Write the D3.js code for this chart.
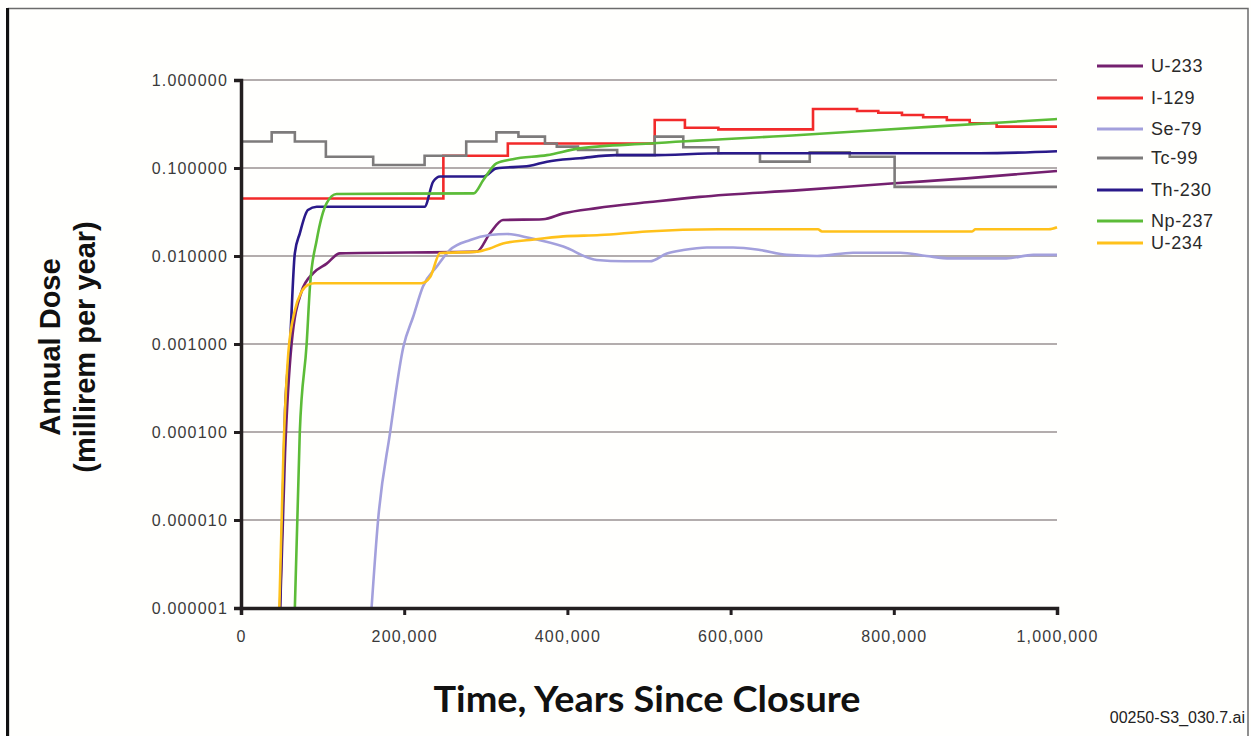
<!DOCTYPE html>
<html>
<head>
<meta charset="utf-8">
<script src="https://cdn.jsdelivr.net/npm/d3@7"></script>
<style>
  body { margin: 0; background: #fff; }
  svg { display: block; }
</style>
</head>
<body>
<div id="chart"></div>
<script>
// data: [years since closure, annual dose in millirem/yr]
const u233 = [[48000,1e-6],[54000,5.8e-5],[62000,0.001],[74000,0.0039],[88600,0.0064],[105000,0.0082],[121000,0.0107],
  [289000,0.0112],[305000,0.018],[321000,0.0256],[370000,0.0262],[395000,0.0305],[436000,0.035],[501000,0.041],
  [562000,0.047],[685000,0.056],[801000,0.067],[889000,0.0763],[1000000,0.0925]];
const i129 = [[0,0.045],[248000,0.138],[327000,0.19],[507000,0.351],[544000,0.287],[585000,0.275],[701000,0.468],
  [755000,0.444],[781000,0.425],[810000,0.40],[836000,0.377],[865000,0.351],[893000,0.322],[926000,0.295],[1000000,0.295]];
const se79 = [[160000,1e-6],[168000,1e-5],[182600,9.7e-5],[199000,9.3e-4],[211000,0.00204],[223000,0.0045],[240000,0.0076],
  [256000,0.0117],[281000,0.0152],[305000,0.0173],[326000,0.0178],[354000,0.016],[395000,0.0128],[436000,0.009],
  [470000,0.0087],[501000,0.0087],[522000,0.0107],[542000,0.0117],[571000,0.0125],[603000,0.0125],[636000,0.0117],
  [669000,0.0103],[706000,0.01],[750000,0.0109],[808000,0.0109],[840000,0.01],[869000,0.0094],[938000,0.0094],
  [971000,0.0103],[1000000,0.0103]];
const tc99 = [[0,0.2],[37600,0.254],[66000,0.2],[104000,0.134],[162000,0.108],[225000,0.138],[276000,0.2],[313000,0.254],
  [340000,0.227],[372500,0.19],[387000,0.175],[413000,0.16],[461000,0.14],[507000,0.227],[542000,0.172],[585000,0.147],
  [636000,0.118],[697000,0.151],[746000,0.134],[801000,0.061],[1000000,0.061]];
const th230 = [[47800,1e-6],[54000,1.78e-4],[60000,0.001],[66000,0.0108],[72000,0.018],[82000,0.0333],[92800,0.0363],
  [225000,0.0363],[235500,0.07],[244000,0.08],[297000,0.08],[313000,0.099],[354000,0.106],[375000,0.118],[415000,0.129],
  [460000,0.14],[501000,0.14],[591000,0.147],[906000,0.147],[1000000,0.155]];
const np237 = [[66000,1e-6],[72000,9.7e-5],[80500,0.00102],[84500,0.0045],[92800,0.0152],[105000,0.04],[117000,0.0507],
  [285000,0.0515],[297000,0.073],[313000,0.113],[333000,0.126],[375000,0.14],[415000,0.167],[501000,0.19],
  [685000,0.237],[848000,0.295],[1000000,0.36]];
const u234 = [[47000,1e-6],[52000,5.8e-5],[58000,7.9e-4],[66000,0.0024],[74000,0.0039],[82000,0.0047],[90000,0.0049],
  [221000,0.0049],[232000,0.0058],[244000,0.0108],[289000,0.0112],[305000,0.0122],[321000,0.0139],[354000,0.0152],
  [395000,0.0167],[440000,0.0173],[497000,0.019],[585000,0.0201],[707000,0.0201],[712000,0.019],[896000,0.019],
  [900000,0.0201],[990000,0.0201],[1000000,0.0212]];

const seriesNames = ["U-233", "I-129", "Se-79", "Tc-99", "Th-230", "Np-237", "U-234"];
const seriesData = [u233, i129, se79, tc99, th230, np237, u234];
const seriesColors = ["#74206f", "#f22a2a", "#a3a0dc", "#7d7b7b", "#2a1a8a", "#5cbc38", "#ffc11a"];
const stepped = ["I-129", "Tc-99"];

const yTicks = [1, 0.1, 0.01, 0.001, 0.0001, 0.00001, 0.000001];
const xTicks = [0, 200000, 400000, 600000, 800000, 1000000];

const width = 1251, height = 736;
const margin = { top: 80, left: 241, right: 194, bottom: 128 };
const plotW = width - margin.left - margin.right;   // 816
const plotH = height - margin.top - margin.bottom;  // 528

const svg = d3.select("#chart").append("svg")
  .attr("width", width)
  .attr("height", height);

svg.append("rect").attr("width", width).attr("height", height).attr("fill", "#fffffd");

// outer frame (bottom edge is cut off in the original)
svg.append("path")
  .attr("d", `M8.5,${height + 5}V8.5H1248V${height + 5}`)
  .attr("fill", "none").attr("stroke", "#6b6b6b").attr("stroke-width", 1.5);
svg.append("line")
  .attr("x1", 7.5).attr("x2", 7.5).attr("y1", 8).attr("y2", height)
  .attr("stroke", "#111").attr("stroke-width", 3);

const g = svg.append("g").attr("transform", `translate(${margin.left},${margin.top})`);

const x = d3.scaleLinear().domain([0, 1000000]).range([0, plotW]);
const y = d3.scaleLog().domain([1e-6, 1]).range([plotH, 0]);

// gridlines
g.append("g").selectAll("line")
  .data(yTicks.filter(d => d > 1e-6))
  .enter().append("line")
  .attr("x1", 0).attr("x2", plotW)
  .attr("y1", d => y(d)).attr("y2", d => y(d))
  .attr("stroke", "#b3adad").attr("stroke-width", 2);

// series
const lineGen = d3.line().x(d => x(d[0])).y(d => y(d[1]));
seriesNames.forEach((name, i) => {
  lineGen.curve(stepped.includes(name) ? d3.curveStepAfter : d3.curveMonotoneX);
  g.append("path")
    .datum(seriesData[i])
    .attr("fill", "none")
    .attr("stroke", seriesColors[i])
    .attr("stroke-width", 2.6)
    .attr("d", lineGen);
});

// axes
const yAxis = d3.axisLeft(y).tickValues(yTicks).tickFormat(d3.format(".6f")).tickSize(7).tickPadding(6);
const xAxis = d3.axisBottom(x).tickValues(xTicks).tickFormat(d3.format(",")).tickSize(7).tickPadding(16);

const yg = g.append("g").attr("class", "y-axis").call(yAxis);
const xg = g.append("g").attr("class", "x-axis").attr("transform", `translate(0,${plotH})`).call(xAxis);

[yg, xg].forEach(a => {
  a.select(".domain").attr("stroke", "#231f20").attr("stroke-width", 3.5);
  a.selectAll(".tick line").attr("stroke", "#231f20").attr("stroke-width", 3);
  a.selectAll(".tick text")
    .attr("fill", "#3a3a3a")
    .style("font-family", "'Liberation Sans', Arial, sans-serif")
    .style("font-size", "16px")
    .style("letter-spacing", "1.2px");
});

// axis titles
const yTitle = svg.append("text")
  .attr("transform", "translate(60,347) rotate(-90)")
  .attr("text-anchor", "middle")
  .style("font-family", "'Liberation Sans', Arial, sans-serif")
  .style("font-weight", "bold")
  .style("font-size", "29px")
  .attr("fill", "#111");
yTitle.append("tspan").attr("x", 0).attr("y", 0).text("Annual Dose");
yTitle.append("tspan").attr("x", 0).attr("y", 35).text("(millirem per year)");

svg.append("text")
  .attr("x", 647).attr("y", 712)
  .attr("text-anchor", "middle")
  .attr("textLength", 427).attr("lengthAdjust", "spacingAndGlyphs")
  .style("font-family", "Lato, 'Open Sans', sans-serif")
  .style("font-weight", "bold")
  .style("font-size", "36px")
  .attr("fill", "#111")
  .text("Time, Years Since Closure");

svg.append("text")
  .attr("x", 1245).attr("y", 723)
  .attr("text-anchor", "end")
  .style("font-family", "'Liberation Sans', Arial, sans-serif")
  .style("font-size", "16px")
  .attr("fill", "#222")
  .text("00250-S3_030.7.ai");

// legend
const legendY = [66, 98, 129, 158, 190, 221, 243];
const legend = svg.append("g");
seriesNames.forEach((name, i) => {
  legend.append("line")
    .attr("x1", 1097).attr("x2", 1143)
    .attr("y1", legendY[i]).attr("y2", legendY[i])
    .attr("stroke", seriesColors[i]).attr("stroke-width", 3);
  legend.append("text")
    .attr("x", 1151).attr("y", legendY[i])
    .attr("dy", "0.36em")
    .style("font-family", "'Liberation Sans', Arial, sans-serif")
    .style("font-size", "18px")
    .style("letter-spacing", "0.6px")
    .attr("fill", "#2a2a2a")
    .text(name);
});
</script>
</body>
</html>
